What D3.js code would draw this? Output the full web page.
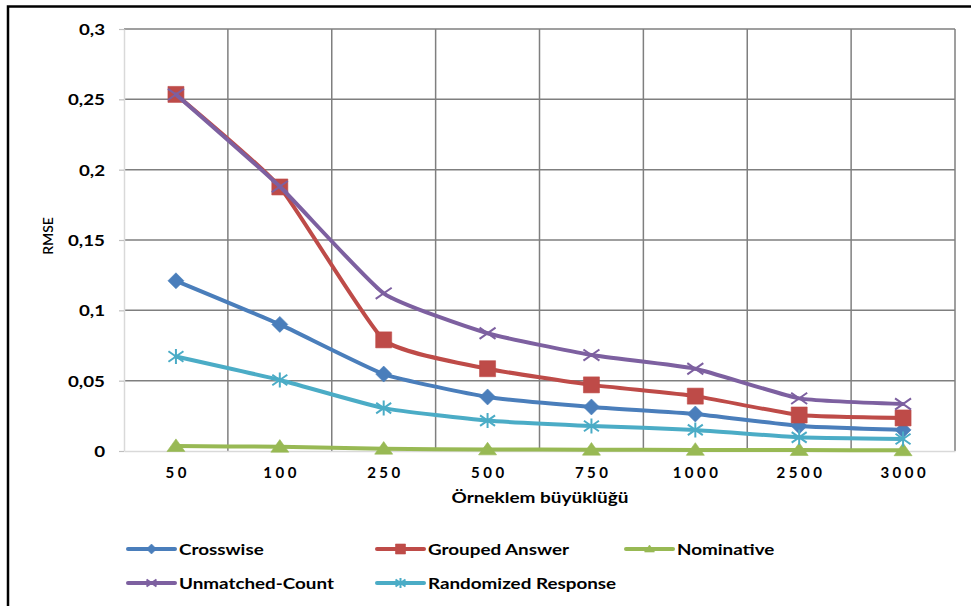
<!DOCTYPE html>
<html>
<head>
<meta charset="utf-8">
<script src="https://cdn.jsdelivr.net/npm/d3@7/dist/d3.min.js"></script>
<style>
  html, body { margin: 0; padding: 0; background: #fff; }
  svg { display: block; }
  text { font-family: Lato, "Open Sans", sans-serif; fill: #000; }
</style>
</head>
<body>
<svg id="chart" width="971" height="606"></svg>
<script>
// Sample sizes (category axis)
const sampleSizes = ["50", "100", "250", "500", "750", "1000", "2500", "3000"];

// RMSE values per technique
const crosswise        = [0.121, 0.090, 0.0547, 0.0384, 0.0313, 0.0263, 0.0178, 0.0150];
const groupedAnswer    = [0.2535, 0.1877, 0.0790, 0.0585, 0.0470, 0.0390, 0.0256, 0.0235];
const nominative       = [0.0035, 0.0030, 0.0016, 0.0011, 0.0009, 0.0008, 0.0007, 0.0005];
const unmatchedCount   = [0.2535, 0.1880, 0.1121, 0.0837, 0.0682, 0.0585, 0.0374, 0.0334];
const randomizedResp   = [0.0672, 0.0505, 0.0305, 0.0216, 0.0178, 0.0150, 0.0097, 0.0085];

const yTicks = [0, 0.05, 0.1, 0.15, 0.2, 0.25, 0.3];

const seriesList = [
  { name: "Crosswise",           values: crosswise,      color: "#4a7ebb", marker: "diamond" },
  { name: "Grouped Answer",      values: groupedAnswer,  color: "#be4b48", marker: "square" },
  { name: "Nominative",          values: nominative,     color: "#98b954", marker: "triangle" },
  { name: "Unmatched-Count",     values: unmatchedCount, color: "#7d60a0", marker: "x" },
  { name: "Randomized Response", values: randomizedResp, color: "#4bacc6", marker: "star" }
];

const svg = d3.select("#chart");
const plot = { left: 124, right: 955, top: 29, bottom: 451 };

const x = d3.scaleBand().domain(sampleSizes).range([plot.left, plot.right]).paddingInner(0).paddingOuter(0);
const y = d3.scaleLinear().domain([0, 0.3]).range([plot.bottom, plot.top]);
const fmt = v => String(+v.toFixed(2)).replace(".", ",");

// Stretch text horizontally so the labels get the wide look of the chart's typeface
function widen(sel, factor) {
  sel.each(function () {
    const w = this.getComputedTextLength();
    d3.select(this).attr("textLength", w * factor).attr("lengthAdjust", "spacingAndGlyphs");
  });
}

// Outer frame
svg.append("path")
  .attr("d", `M8,606 L8,6.5 L971,6.5`)
  .attr("fill", "none").attr("stroke", "#000").attr("stroke-width", 2.5);

// Horizontal gridlines
svg.append("g").selectAll("line").data(yTicks.filter(d => d > 0)).join("line")
  .attr("x1", plot.left).attr("x2", plot.right)
  .attr("y1", d => y(d)).attr("y2", d => y(d))
  .attr("stroke", "#7f7f7f").attr("stroke-width", 1.5);

// Vertical gridlines at category boundaries
svg.append("g").selectAll("line").data(sampleSizes).join("line")
  .attr("x1", d => x(d) + x.bandwidth()).attr("x2", d => x(d) + x.bandwidth())
  .attr("y1", plot.top).attr("y2", plot.bottom)
  .attr("stroke", "#7f7f7f").attr("stroke-width", 1.5);

// Y axis
const yAxis = svg.append("g")
  .attr("transform", `translate(${plot.left},0)`)
  .call(d3.axisLeft(y).tickValues(yTicks).tickFormat(fmt).tickSizeInner(5).tickSizeOuter(0).tickPadding(14));
yAxis.select(".domain").attr("stroke", "#d9d9d9").attr("stroke-width", 1.5);
yAxis.selectAll(".tick line").attr("stroke", "#bfbfbf").attr("stroke-width", 1.2);
const yLabels = yAxis.selectAll(".tick text")
  .attr("font-family", "Lato, sans-serif").attr("font-size", 15.5).attr("font-weight", 700)
  .attr("fill", "#000").attr("dy", "0.36em");
// scale y labels so "0,25" spans ~37px
{
  let ref = 0;
  yLabels.each(function () { if (this.textContent === "0,25") ref = this.getComputedTextLength(); });
  widen(yLabels, ref ? 37 / ref : 1.3);
}

// X axis
const xAxis = svg.append("g")
  .attr("transform", `translate(0,${plot.bottom})`)
  .call(d3.axisBottom(x).tickSize(0).tickPadding(0));
xAxis.select(".domain").attr("stroke", "#d9d9d9").attr("stroke-width", 1.5);
xAxis.selectAll(".tick text")
  .attr("font-family", "Lato, sans-serif").attr("font-size", 15).attr("font-weight", 700)
  .attr("fill", "#000").attr("y", 27).attr("dy", 0)
  .attr("letter-spacing", "3.5px")
  .attr("dx", "1.75px");

// Axis titles
const xTitle = svg.append("text")
  .attr("x", 540).attr("y", 503)
  .attr("text-anchor", "middle")
  .attr("font-size", 16).attr("font-weight", 700)
  .text("Örneklem büyüklüğü");
widen(xTitle, 177 / xTitle.node().getComputedTextLength());

svg.append("text")
  .attr("transform", "translate(53,236) rotate(-90)")
  .attr("text-anchor", "middle")
  .attr("font-size", 14).attr("font-weight", 600)
  .text("RMSE");

// Marker shapes
function markerPath(type, s) {
  const h = s / 2;
  switch (type) {
    case "diamond":  return `M0,${-h}L${h},0L0,${h}L${-h},0Z`;
    case "square":   return `M${-h},${-h}H${h}V${h}H${-h}Z`;
    case "triangle": return `M0,${-h * 0.8}L${h},${h * 0.6}L${-h},${h * 0.6}Z`;
    case "x":        return `M${-h},${-h * 0.7}L${h},${h * 0.7}M${-h},${h * 0.7}L${h},${-h * 0.7}`;
    case "star":     return `M${-h},${-h * 0.7}L${h},${h * 0.7}M${-h},${h * 0.7}L${h},${-h * 0.7}M0,${-h}L0,${h}`;
  }
}
const markerSize = { diamond: 16, square: 16, triangle: 18, x: 16, star: 15 };
const isStroked = t => t === "x" || t === "star";

function drawMarker(g, type, color, size) {
  const p = g.append("path").attr("d", markerPath(type, size));
  if (isStroked(type)) p.attr("fill", "none").attr("stroke", color).attr("stroke-width", 2);
  else p.attr("fill", color).attr("stroke", color).attr("stroke-width", 1).attr("stroke-opacity", 0.6);
}

const line = d3.line()
  .x((d, i) => x(sampleSizes[i]) + x.bandwidth() / 2)
  .y(d => y(d))
  .curve(d3.curveCardinal.tension(0.55));

const seriesG = svg.append("g");
seriesList.forEach(s => {
  const g = seriesG.append("g");
  g.append("path")
    .attr("d", line(s.values))
    .attr("fill", "none").attr("stroke", s.color).attr("stroke-width", 4)
    .attr("stroke-linejoin", "round").attr("stroke-linecap", "round");
  s.values.forEach((v, i) => {
    const mg = g.append("g")
      .attr("transform", `translate(${x(sampleSizes[i]) + x.bandwidth() / 2},${y(v)})`);
    drawMarker(mg, s.marker, s.color, markerSize[s.marker]);
  });
});

// Legend
const legendPos = [
  { x: 128, y: 549 }, { x: 377, y: 549 }, { x: 626, y: 549 },
  { x: 128, y: 583 }, { x: 377, y: 583 }
];
const legend = svg.append("g");
const legendTexts = [];
seriesList.forEach((s, i) => {
  const p = legendPos[i];
  const g = legend.append("g").attr("transform", `translate(${p.x},${p.y})`);
  g.append("line").attr("x1", 0).attr("x2", 47).attr("y1", 0).attr("y2", 0)
    .attr("stroke", s.color).attr("stroke-width", 4).attr("stroke-linecap", "round");
  const mg = g.append("g").attr("transform", "translate(23.5,0)");
  drawMarker(mg, s.marker, s.color, 10);
  legendTexts.push(g.append("text").attr("x", 51).attr("y", 6)
    .attr("font-size", 15).attr("font-weight", 700)
    .text(s.name).node());
});
// legend labels: "Grouped Answer" spans ~141px
widen(d3.selectAll(legendTexts), 141 / legendTexts[1].getComputedTextLength());
</script>
</body>
</html>
